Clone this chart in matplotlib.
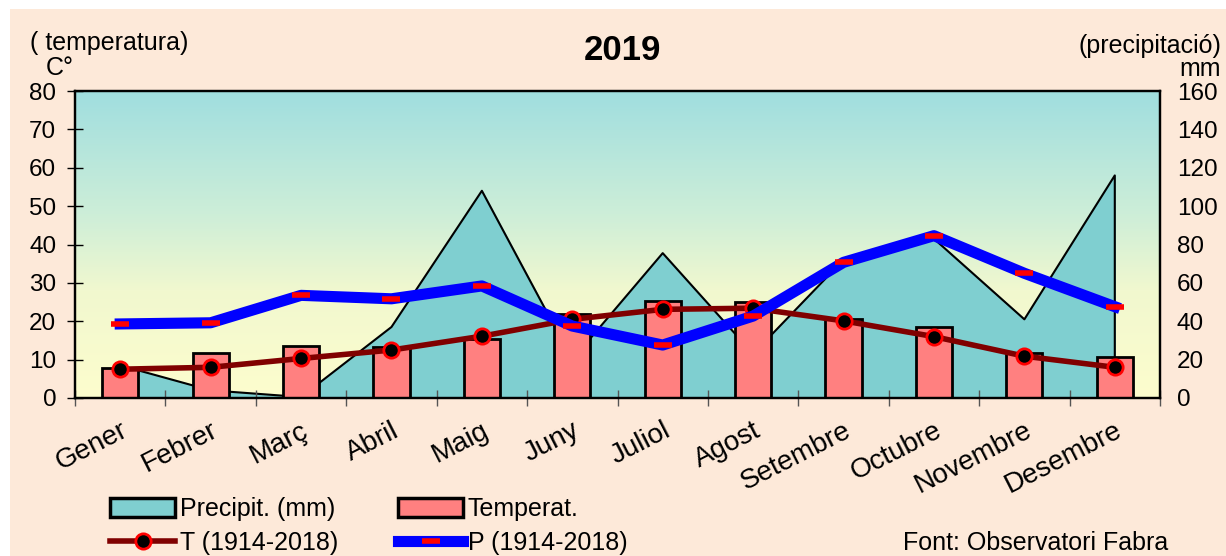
import numpy as np
import matplotlib
matplotlib.use("Agg")
import matplotlib.pyplot as plt
from matplotlib.colors import LinearSegmentedColormap
from matplotlib.patches import Rectangle, Patch
from matplotlib.lines import Line2D

plt.rcParams['font.family'] = ['Liberation Sans', 'DejaVu Sans']
LEG_FONT = ['Liberation Sans', 'DejaVu Sans']

# data
months = ["Gener", "Febrer", "Març", "Abril", "Maig", "Juny", "Juliol",
          "Agost", "Setembre", "Octubre", "Novembre", "Desembre"]
precip_2019 = [17, 4, 0.5, 37, 108, 20, 75.5, 23, 72, 83, 41, 116]      # mm
temp_2019 = [7.9, 11.8, 13.5, 13.4, 15.3, 21.9, 25.3, 24.9, 20.5, 18.4, 11.6, 10.6]  # C
temp_hist = [7.5, 8.0, 10.3, 12.5, 16.1, 20.5, 23.1, 23.4, 20.1, 16.0, 10.9, 8.0]
precip_hist = [38.6, 39.2, 53.5, 51.7, 58.4, 37.5, 27.6, 42.7, 70.7, 84.6, 65.0, 47.6]

W, H = 1226, 556
fig = plt.figure(figsize=(W / 100, H / 100), dpi=100, facecolor='white')
# peach page with small white border top/left
fig.patches.append(Rectangle((10 / W, 0), 1, 1 - 9 / H, transform=fig.transFigure,
                             facecolor='#fde9d9', edgecolor='none', zorder=-10))

pos = [75 / W, (H - 398) / H, (1160 - 75) / W, (398 - 91) / H]
x = np.arange(len(months))

# background axis: gradient + precipitation area (right scale)
ax_bg = fig.add_axes(pos)
grad = LinearSegmentedColormap.from_list('g', [(0, '#fdfdcd'), (0.35, '#f1f8cf'),
                                               (0.6, '#cdeed8'), (1, '#a0dedf')])
ax_bg.imshow(np.linspace(0, 1, 256).reshape(-1, 1), cmap=grad, origin='lower',
             aspect='auto', extent=[-0.5, 11.5, 0, 160], zorder=0)
ax_bg.fill_between(x, precip_2019, color='#7fcfd0', zorder=1)
ax_bg.plot(np.r_[x[0], x, x[-1]], np.r_[0, precip_2019, 0], color='black', lw=1.5, zorder=2)
ax_bg.set_xlim(-0.5, 11.5)
ax_bg.set_ylim(0, 160)
ax_bg.axis('off')

# temperature axis (left)
ax = fig.add_axes(pos, facecolor='none')
ax.bar(x, temp_2019, width=0.4, color='#ff8080', edgecolor='black', linewidth=2, zorder=2)
ax.plot(x, temp_hist, color='#800000', lw=4, marker='o', markersize=11,
        markerfacecolor='black', markeredgecolor='red', markeredgewidth=2, zorder=3)
ax.set_xlim(-0.5, 11.5)
ax.set_ylim(0, 80)
ax.set_yticks(range(0, 81, 10))
ax.tick_params(axis='y', direction='inout', length=11, width=1, labelsize=17.5, pad=8)
ax.set_xticks(x)
ax.set_xticklabels(months, rotation=27, ha='right', va='top', rotation_mode='anchor', fontsize=20)
ax.tick_params(axis='x', which='major', length=0, pad=14)
ax.set_xticks(np.arange(-0.5, 12, 1), minor=True)
ax.tick_params(axis='x', which='minor', direction='inout', length=12, width=1, color='#555555')
for s in ax.spines.values():
    s.set_linewidth(1.6)

# long-term precipitation (right)
ax_p = ax.twinx()
ax_p.plot(x, precip_hist, color='#0000ff', lw=8, marker='_', markersize=13,
          markeredgecolor='red', markeredgewidth=4, zorder=4)
ax_p.set_ylim(0, 160)
ax_p.set_yticks(range(0, 161, 20))
ax_p.tick_params(axis='y', length=0, labelsize=17.5, pad=12)
for s in ax_p.spines.values():
    s.set_linewidth(1.6)

# titles and axis captions
fig.text(622 / W, 1 - 50 / H, "2019", fontsize=25, fontweight='bold', ha='center', va='center')
fig.text(30 / W, 1 - 43 / H, "( temperatura)", fontsize=18, ha='left', va='center')
fig.text(46 / W, 1 - 68 / H, "C°", fontsize=18, ha='left', va='center')
fig.text(1221 / W, 1 - 46 / H, "(precipitació)", fontsize=18, ha='right', va='center')
fig.text(1221 / W, 1 - 69 / H, "mm", fontsize=18, ha='right', va='center')

# legend
h_precip = Patch(facecolor='#7fcfd0', edgecolor='black', linewidth=2.5)
h_temp = Patch(facecolor='#ff8080', edgecolor='black', linewidth=2.5)
h_t = Line2D([], [], color='#800000', lw=4, marker='o', markersize=11,
             markerfacecolor='black', markeredgecolor='red', markeredgewidth=2)
h_p = Line2D([], [], color='#0000ff', lw=8, marker='_', markersize=13,
             markeredgecolor='red', markeredgewidth=4)
leg_kw = dict(loc='upper left', frameon=False, handlelength=2.6, handleheight=0.8,
              handletextpad=0.2, labelspacing=0.4, borderpad=0, borderaxespad=0,
              prop={'family': LEG_FONT, 'size': 18})
fig.legend([h_precip, h_t], ["Precipit. (mm)", "T (1914-2018)"],
           bbox_to_anchor=(110 / W, 1 - 497 / H), **leg_kw)
fig.legend([h_temp, h_p], ["Temperat.", "P (1914-2018)"],
           bbox_to_anchor=(398 / W, 1 - 497 / H), **leg_kw)
fig.text(903 / W, 1 - 543 / H, "Font: Observatori Fabra", family=LEG_FONT, fontsize=18,
         ha='left', va='center')

fig.savefig("out.png", dpi=100, facecolor=fig.get_facecolor())
